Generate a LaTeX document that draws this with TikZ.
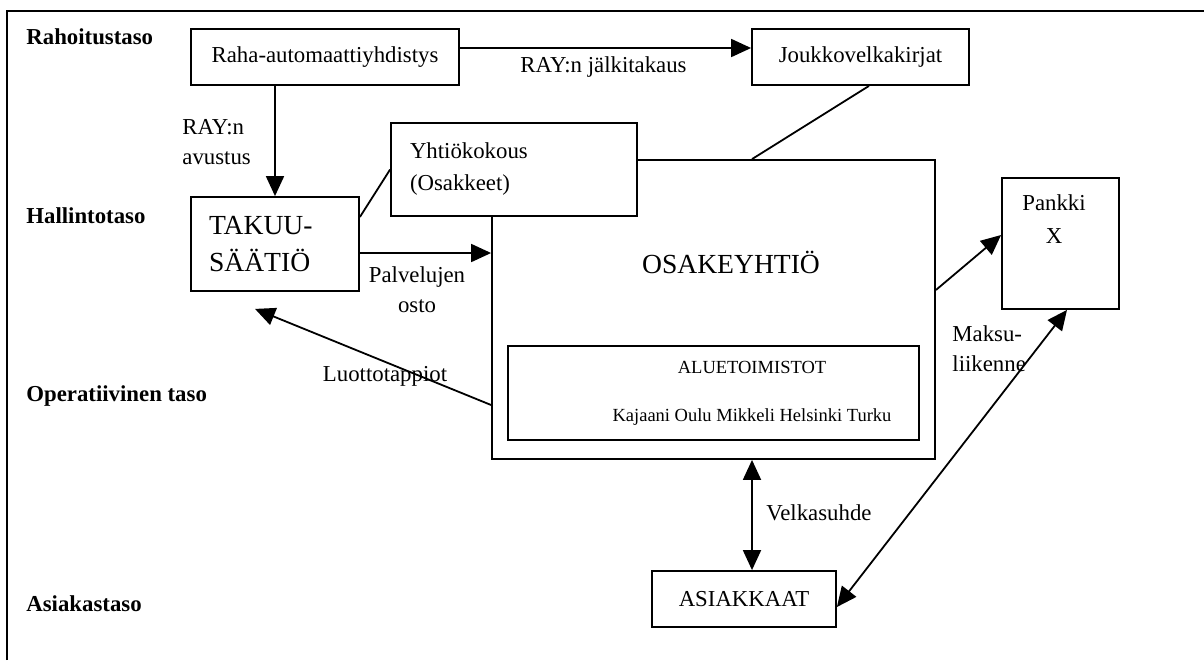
\documentclass[tikz,border=0pt]{standalone}
\usepackage{fontspec}
\setmainfont{Liberation Serif}
\usetikzlibrary{arrows.meta}

\begin{document}
\begin{tikzpicture}[x=0.5pt,y=-0.5pt,
 box/.style={draw,fill=white,line width=.9pt,inner sep=0pt,font=\fontsize{11.4}{15}\selectfont},
 level/.style={anchor=west,inner sep=0pt,font=\fontsize{11.4}{15}\selectfont\bfseries},
 lbl/.style={inner sep=0pt,font=\fontsize{11.4}{15}\selectfont},
 arrow/.style={-{Triangle[length=10pt,width=9pt]},line width=.9pt},
 twoway/.style={{Triangle[length=10pt,width=9pt]}-{Triangle[length=10pt,width=9pt]},line width=.9pt},
 link/.style={line width=.9pt}
]
\useasboundingbox (0,0) rectangle (1204,660);
\draw[link] (7,660) -- (7,11) -- (1204,11);
% levels
\node[level] (rah) at (26,37) {Rahoitustaso};
\node[level] (hal) at (26,216) {Hallintotaso};
\node[level] (ope) at (26,396) {Operatiivinen taso};
\node[level] (asl) at (26,604) {Asiakastaso};
% boxes
\node[box,minimum width=134pt,minimum height=28pt] (ray) at (325,57) {Raha-automaattiyhdistys};
\node[box,minimum width=108.5pt,minimum height=28pt] (jvk) at (860.5,57) {Joukkovelkakirjat};
\node[box,minimum width=221.5pt,minimum height=149.5pt] (osk) at (713.5,309.5) {};
\node[font=\fontsize{13.8}{16}\selectfont,inner sep=0pt] (osktxt) at (731,262) {OSAKEYHTIÖ};
\node[box,minimum width=123pt,minimum height=46.5pt,text width=104pt,inner xsep=9.5pt,
 align=left,font=\fontsize{11.4}{16}\selectfont] (yk) at (514,169.5) {Yhtiökokous\\(Osakkeet)};
\node[box,minimum width=84pt,minimum height=47pt,text width=66pt,inner xsep=9pt,
 align=left,font=\fontsize{13.8}{18.5}\selectfont] (tak) at (275,244) {TAKUU-\\SÄÄTIÖ};
\node[box,minimum width=205.5pt,minimum height=47pt] (alu) at (713.5,393) {};
\node[lbl,align=center,font=\fontsize{9.25}{24}\selectfont] (alutxt) at (752,393)
 {ALUETOIMISTOT\\Kajaani Oulu Mikkeli Helsinki Turku};
\node[box,minimum width=58.5pt,minimum height=65.5pt] (pankki) at (1060.5,243.5) {};
\node[lbl,align=center,font=\fontsize{11.4}{16.5}\selectfont] (pankkitxt) at (1054,219.5) {Pankki\\X};
\node[box,minimum width=92pt,minimum height=28pt] (asi) at (744,599) {ASIAKKAAT};
% labels
\node[lbl] (jlk) at (603.5,67) {RAY:n jälkitakaus};
\node[lbl,anchor=west,align=left] (avu) at (182,142.5) {RAY:n\\avustus};
\node[lbl,align=center] (pos) at (417,290) {Palvelujen\\osto};
\node[lbl] (luo) at (385,376) {Luottotappiot};
\node[lbl,anchor=west,align=left] (mak) at (952,349) {Maksu-\\liikenne};
\node[lbl,anchor=west] (vel) at (766,513) {Velkasuhde};
% connectors
\draw[arrow] (ray.south -| tak.north) -- (tak.north);
\draw[arrow] ([yshift=4.5pt]ray.east) -- ([yshift=4.5pt]jvk.west);
\draw[link] ([yshift=13.5pt]tak.east) -- (yk.west);
\draw[link] ([xshift=4.25pt]jvk.south) -- ([xshift=19.25pt]osk.north);
\draw[arrow] ([yshift=-4.5pt]tak.east) -- ([yshift=-4.5pt]tak.east -| osk.west);
\draw[arrow] ([yshift=-47.75pt]osk.west) -- ([xshift=-10pt,yshift=-8.5pt]tak.south);
\draw[arrow] ([yshift=9.75pt]osk.east) -- ([yshift=4.25pt]pankki.west);
\draw[twoway] ([xshift=3.25pt]pankki.south) -- ([yshift=-4pt]asi.east);
\draw[twoway] ([xshift=19.25pt]osk.south) -- ([xshift=19.25pt]osk.south |- asi.north);
\end{tikzpicture}
\end{document}
